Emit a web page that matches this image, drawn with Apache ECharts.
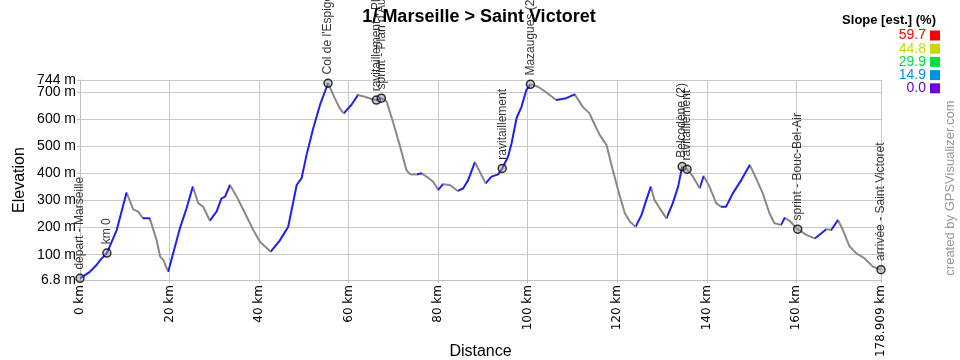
<!DOCTYPE html>
<html>
<head>
<meta charset="utf-8">
<script src="https://cdn.jsdelivr.net/npm/echarts@6/dist/echarts.min.js"></script>
<style>
html,body{margin:0;padding:0;background:#fff;}
#chart{width:960px;height:360px;}
</style>
</head>
<body>
<div id="chart"></div>
<script>
// ---- data ----
const titleText = '1/ Marseille > Saint Victoret';
const distKm = [0,2.2,3.7,4.5,6.0,8.2,10.4,11.9,13.0,14.1,15.6,17.1,17.9,18.6,19.7,22.3,23.8,25.2,26.4,27.5,29.0,30.5,31.6,32.4,33.5,35.0,36.5,38.7,40.2,42.6,44.6,46.5,48.4,49.5,50.6,52.1,53.6,55.4,56.9,58.0,58.9,60.6,62.1,63.6,65.1,66.2,67.3,68.5,69.9,71.4,72.9,73.7,75.2,76.3,77.4,78.9,80.0,81.1,82.6,84.4,85.6,86.7,88.2,89.3,90.6,91.9,93.4,94.3,95.6,96.4,97.5,98.6,99.7,100.6,102.3,103.4,104.9,106.4,108.6,110.5,112.3,113.8,115.0,116.1,117.6,119.0,120.5,121.7,122.8,124.1,125.4,126.5,127.5,128.3,129.5,131.0,132.4,133.6,134.5,135.6,136.9,138.4,139.3,140.6,142.1,143.2,144.3,145.8,147.7,149.6,151.0,152.5,154.0,155.1,156.6,157.4,158.5,160.3,162.2,164.1,165.6,166.7,167.8,169.3,170.4,171.9,173.4,175.2,177.1,178.909];
const elevM = [13,37,62,80,106,191,329,267,259,234,234,154,93,81,37,197,271,351,290,277,226,259,308,314,357,314,265,191,148,111,152,203,357,382,468,566,652,732,677,640,621,652,689,682,674,670,677,664,590,504,412,397,396,400,388,369,339,360,357,335,345,375,441,406,363,388,396,418,461,511,603,645,707,728,719,707,689,670,677,691,645,621,578,541,504,412,320,253,222,203,246,302,351,302,271,234,290,351,425,415,388,345,390,351,290,277,277,326,375,431,382,326,253,216,210,236,225,194,173,160,179,194,191,228,191,130,105,87,56,45];

const wpNames = ['départ - Marseille','km 0',"Col de l'Espigoulier","ravitaillement - Plan d'Aups","sprint - Plan d'Aups",'ravitaillement','Mazaugues (2)','Belcodène (2)','ravitaillement','sprint - Bouc-Bel-Air','arrivée - Saint Victoret'];
const wpKm = [0,6.0,55.4,66.2,67.3,94.3,100.6,134.5,135.6,160.3,178.909];
const wpElev = [13,106,732,670,677,418,728,425,415,194,45];

const yTicks = [6.8,100,200,300,400,500,600,700,744];
const yTickLabels = ['6.8 m','100 m','200 m','300 m','400 m','500 m','600 m','700 m','744 m'];
const xTicks = [0,20,40,60,80,100,120,140,160,178.909];
const xTickLabels = ['0 km','20 km','40 km','60 km','80 km','100 km','120 km','140 km','160 km','178.909 km'];

const slopeLegendValues = ['59.7','44.8','29.9','14.9','0.0'];
const slopeLegendColors = ['#ff0000','#c8d800','#00e040','#0090e0','#7000e0'];

// ---- build ----
const UP = '#2020ee', DOWN = '#888888';
const profile = distKm.map((d,i)=>[d, elevM[i]]);
const pieces = [];
for (let i=0;i<distKm.length-1;i++){
  pieces.push({gte: distKm[i], lt: distKm[i+1], color: elevM[i+1] >= elevM[i] ? UP : DOWN});
}
pieces[pieces.length-1].lte = distKm[distKm.length-1];
delete pieces[pieces.length-1].lt;

function lookup(v, ticks, labels){
  for (let i=0;i<ticks.length;i++){ if (Math.abs(v-ticks[i])<0.01) return labels[i]; }
  return '';
}
const yMinV = yTicks[0], yMaxV = yTicks[yTicks.length-1];
const yTicksLower = yTicks.slice(0, yTicks.length-1);   // labelled on main axis
const yTicksTop = [yMaxV];                               // labelled on overlay axis

const chart = echarts.init(document.getElementById('chart'));
const legendGraphics = [{
  type:'text', x: 936, y: 20,
  style:{text:'Slope [est.] (%)', align:'right', verticalAlign:'middle', font:'bold 13px "Liberation Sans", Arial', fill:'#000'}
}];
slopeLegendValues.forEach((v,i)=>{
  const cy = 35.5 + i*13.2;
  legendGraphics.push({type:'text', x:926, y:cy,
    style:{text:v, align:'right', verticalAlign:'middle', font:'14px "Liberation Sans", Arial', fill:slopeLegendColors[i]}});
  legendGraphics.push({type:'rect', shape:{x:930, y:cy-5, width:10, height:10}, style:{fill:slopeLegendColors[i]}});
});
legendGraphics.push({type:'text', x: 950, y: 188, rotation: Math.PI/2,
  style:{text:'created by GPSVisualizer.com', align:'center', verticalAlign:'middle', font:'13px "Liberation Sans", Arial', fill:'#999'}});

const yLabelStyle = {margin:4, color:'#000', showMinLabel:true, showMaxLabel:true, hideOverlap:false,
  fontFamily:'"Liberation Sans", Arial', fontSize:14, formatter:v=> lookup(v, yTicks, yTickLabels)};

chart.setOption({
  animation:false,
  backgroundColor:'#fff',
  title:{text:titleText, left:474, textAlign:'center', top:3,
    textStyle:{fontFamily:'"Liberation Sans", Arial', fontWeight:'bold', fontSize:18, color:'#000'}},
  grid:{left:80, right:79, top:80, bottom:80, containLabel:false, outerBoundsMode:'none'},
  xAxis:{type:'value', min:0, max:178.909,
    name:'Distance', nameLocation:'middle', nameGap:64, nameMoveOverlap:false,
    nameTextStyle:{fontFamily:'"Liberation Sans", Arial', fontSize:16, color:'#000'},
    axisLine:{show:true, lineStyle:{color:'#c0c0c0'}},
    axisTick:{show:true, length:3, lineStyle:{color:'#c0c0c0'}, customValues: xTicks},
    splitLine:{show:true, lineStyle:{color:'#c8c8c8', width:1}},
    axisLabel:{customValues: xTicks, rotate:90, margin:5, color:'#000', showMinLabel:true, showMaxLabel:true, hideOverlap:false,
      fontFamily:'"DejaVu Sans", Verdana', fontSize:12,
      formatter:v=> lookup(v, xTicks, xTickLabels)}
  },
  yAxis:[
    {type:'value', min:yMinV, max:yMaxV,
      name:'Elevation', nameLocation:'middle', nameGap:52, nameRotate:90, nameMoveOverlap:false,
      nameTextStyle:{fontFamily:'"Liberation Sans", Arial', fontSize:16, color:'#000'},
      axisLine:{show:true, lineStyle:{color:'#c0c0c0'}},
      axisTick:{show:true, length:3, lineStyle:{color:'#c0c0c0'}, customValues: yTicks},
      splitLine:{show:true, lineStyle:{color:'#c8c8c8', width:1}},
      axisLabel:Object.assign({customValues: yTicksLower}, yLabelStyle)
    },
    {type:'value', min:yMinV, max:yMaxV, position:'left', offset:0,
      axisLine:{show:false}, axisTick:{show:false}, splitLine:{show:false},
      axisLabel:Object.assign({customValues: yTicksTop}, yLabelStyle)
    }
  ],
  visualMap:{show:false, type:'piecewise', dimension:0, seriesIndex:0, pieces:pieces},
  series:[
    {type:'line', data:profile, showSymbol:false, symbol:'none', lineStyle:{width:2}, z:2},
    {type:'scatter', data: wpKm.map((d,i)=>({value:[d,wpElev[i]], name:wpNames[i]})),
      symbol:'circle', symbolSize:8,
      itemStyle:{color:'rgba(150,150,150,0.6)', borderColor:'#000', borderWidth:1.5},
      z:5,
      label:{show:true, position:'top', distance:4, rotate:90, align:'left', verticalAlign:'middle',
        formatter:p=>p.name, color:'#000', fontFamily:'"Liberation Sans", Arial', fontSize:12}
    }
  ],
  graphic: legendGraphics
});
</script>
</body>
</html>
